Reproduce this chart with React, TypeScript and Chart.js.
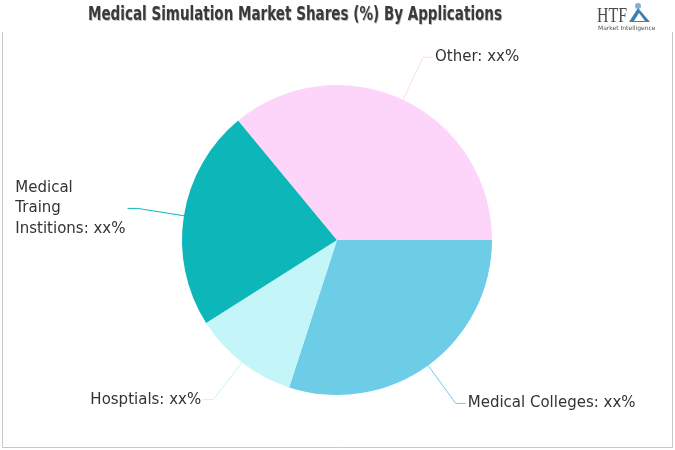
import React, { useEffect, useRef } from "react";
import { Chart, registerables } from "chart.js";

Chart.register(...registerables);

const categories = ["Medical Colleges", "Hosptials", "Medical Traing Institions", "Other"];
const values = [30, 11, 23, 36];
const labelLines = [
  ["Medical Colleges: xx%"],
  ["Hosptials: xx%"],
  ["Medical", "Traing", "Institions: xx%"],
  ["Other: xx%"],
];
const colors = ["#6dcde6", "#c4f6f9", "#0db7b9", "#fdd5fb"];
const titleText = "Medical Simulation Market Shares (%) By Applications";

const overlayPlugin = {
  id: "overlay",
  afterDraw(chart: any) {
    const ctx: CanvasRenderingContext2D = chart.ctx;
    ctx.save();
    // frame
    ctx.strokeStyle = "#c8c8c8";
    ctx.lineWidth = 1;
    ctx.beginPath();
    ctx.moveTo(2.5, 32);
    ctx.lineTo(2.5, 447.5);
    ctx.lineTo(672.5, 447.5);
    ctx.lineTo(672.5, 32);
    ctx.stroke();

    // title
    ctx.font = "bold 19px 'DejaVu Sans'";
    const tw = ctx.measureText(titleText).width;
    const target = 414;
    ctx.save();
    ctx.translate(295, 20);
    ctx.scale(target / tw, 1);
    ctx.textAlign = "center";
    ctx.textBaseline = "alphabetic";
    ctx.fillStyle = "rgba(0,0,0,0.25)";
    ctx.fillText(titleText, 1, 1);
    ctx.fillStyle = "#3a3a3a";
    ctx.fillText(titleText, 0, 0);
    ctx.restore();

    // logo
    ctx.fillStyle = "#4a4a4a";
    ctx.font = "20px 'Liberation Serif'";
    ctx.textAlign = "left";
    ctx.textBaseline = "alphabetic";
    const hw = ctx.measureText("HTF").width;
    ctx.save();
    ctx.translate(597, 22);
    ctx.scale(30 / hw, 1);
    ctx.fillText("HTF", 0, 0);
    ctx.restore();
    ctx.fillStyle = "#3d7fb0";
    ctx.beginPath();
    ctx.moveTo(629, 22);
    ctx.lineTo(638, 8);
    ctx.lineTo(650, 22);
    ctx.closePath();
    ctx.fill();
    ctx.fillStyle = "#ffffff";
    ctx.beginPath();
    ctx.moveTo(634, 21);
    ctx.lineTo(639, 13);
    ctx.lineTo(645, 21);
    ctx.closePath();
    ctx.fill();
    ctx.fillStyle = "#7fb3d6";
    ctx.beginPath();
    ctx.arc(638, 6, 3, 0, Math.PI * 2);
    ctx.fill();
    ctx.fillStyle = "#555";
    ctx.font = "6px 'DejaVu Sans'";
    ctx.fillText("Market Intelligence", 598, 30);

    // data labels
    const meta = chart.getDatasetMeta(0);
    ctx.font = "15px 'DejaVu Sans'";
    meta.data.forEach((arc: any, i: number) => {
      const p = arc.getProps(["x", "y", "startAngle", "endAngle", "outerRadius"], true);
      const mid = (p.startAngle + p.endAngle) / 2;
      const c = Math.cos(mid);
      const s = Math.sin(mid);
      const ex = p.x + p.outerRadius * c;
      const ey = p.y + p.outerRadius * s;
      const bx = p.x + (p.outerRadius + 47) * c;
      const by = p.y + (p.outerRadius + 47) * s;
      const right = c >= 0;
      const endX = bx + (right ? 10 : -10);
      ctx.strokeStyle = colors[i];
      ctx.lineWidth = 1;
      ctx.beginPath();
      ctx.moveTo(ex, ey);
      ctx.lineTo(bx, by);
      ctx.lineTo(endX, by);
      ctx.stroke();
      const lines = labelLines[i];
      const lh = 20.5;
      const maxW = Math.max(...lines.map((l) => ctx.measureText(l).width));
      const left = right ? endX + 2 : endX - 2 - maxW;
      ctx.fillStyle = "#333333";
      ctx.textAlign = "left";
      ctx.textBaseline = "middle";
      lines.forEach((l, j) => {
        ctx.fillText(l, left, by + (j - (lines.length - 1) / 2) * lh);
      });
    });
    ctx.restore();
  },
};

export default function App() {
  const ref = useRef<HTMLCanvasElement>(null);
  useEffect(() => {
    document.body.style.margin = "0";
    const chart = new Chart(ref.current!, {
      type: "pie",
      data: {
        labels: categories,
        datasets: [
          {
            data: values,
            backgroundColor: colors,
            borderWidth: 0,
          },
        ],
      },
      options: {
        responsive: false,
        animation: false,
        rotation: 90,
        layout: { padding: { top: 85, bottom: 55, left: 182, right: 183 } },
        plugins: {
          legend: { display: false },
          tooltip: { enabled: false },
          title: { display: false },
        },
      },
      plugins: [overlayPlugin],
    });
    return () => chart.destroy();
  }, []);
  return (
    <div style={{ width: 675, height: 450, background: "#fff" }}>
      <canvas ref={ref} width={675} height={450} />
    </div>
  );
}
